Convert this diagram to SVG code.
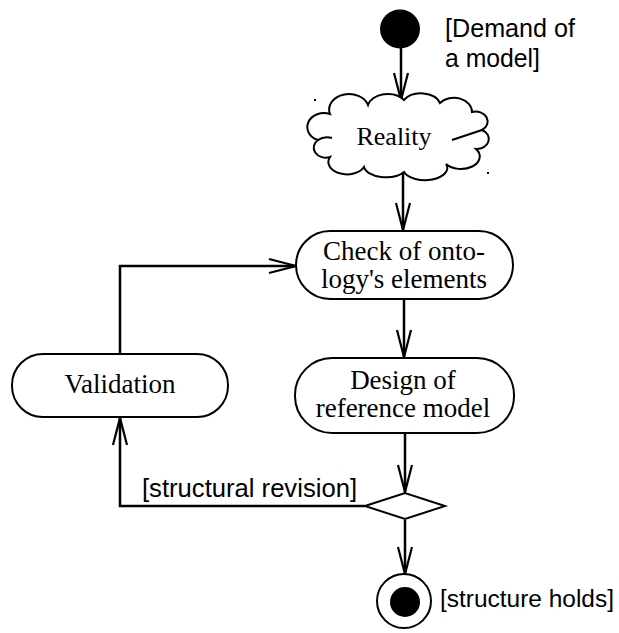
<svg xmlns="http://www.w3.org/2000/svg" width="619" height="633" viewBox="0 0 619 633">
<style>
.node{fill:#fff;stroke:#000;stroke-width:2}
.tt{font-family:"Liberation Serif","Times New Roman",serif;font-size:27px;fill:#000;text-anchor:middle}
.ts{font-family:"Liberation Sans",Arial,sans-serif;font-size:26px;fill:#000}
.edge{fill:none;stroke:#000;stroke-width:2.5}
</style>
<defs>
<marker id="arr" markerUnits="userSpaceOnUse" markerWidth="30" markerHeight="16" viewBox="0 0 30 16" refX="28" refY="8" orient="auto" overflow="visible">
<path d="M1,1 L28,8 L1,15" fill="none" stroke="#000" stroke-width="2.2"/>
</marker>
</defs>
<rect width="619" height="633" fill="#fff"/>
<g id="connectors">
<line class="edge" x1="401" y1="48" x2="401" y2="100" marker-end="url(#arr)"/>
<line class="edge" x1="403" y1="172" x2="403" y2="230" marker-end="url(#arr)"/>
<line class="edge" x1="404" y1="299" x2="404" y2="357" marker-end="url(#arr)"/>
<line class="edge" x1="405" y1="433" x2="405" y2="492" marker-end="url(#arr)"/>
<line class="edge" x1="405" y1="520" x2="405" y2="574" marker-end="url(#arr)"/>
<polyline class="edge" points="365,506 120,506 120,418" marker-end="url(#arr)"/>
<polyline class="edge" points="120,354 120,266 296,266" marker-end="url(#arr)"/>
</g>
<g id="start">
<ellipse cx="400" cy="29" rx="20" ry="19.5" fill="#000"/>
<text class="ts"><tspan x="445" y="37" textLength="130" lengthAdjust="spacingAndGlyphs">[Demand of</tspan><tspan x="445" y="67" textLength="95" lengthAdjust="spacingAndGlyphs">a model]</tspan></text>
</g>
<g id="reality">
<path class="node" d="M330,114 A18,14 0 0,1 368,105 A20,14 0 0,1 404,100 A20,14 0 0,1 440,103 A18,14 0 0,1 472,112 A12,10 0 0,1 482,130 A12,10 0 0,1 476,149 A18,12 0 0,1 446,164 A22,12 0 0,1 404,172 A22,12 0 0,1 364,167 A18,12 0 0,1 330,157 A12,10 0 0,1 318,140 A12,10 0 0,1 330,114 Z"/>
<path d="M318,140 Q324,136 332,138 M482,130 Q470,134 452,140" fill="none" stroke="#000" stroke-width="2"/>
<rect x="314" y="99" width="2" height="2" fill="#000"/>
<rect x="487" y="172" width="2" height="2" fill="#000"/>
<text class="tt" x="394" y="145" style="font-size:26px">Reality</text>
</g>
<g id="check">
<rect class="node" x="296" y="231" width="217" height="68" rx="34"/>
<text class="tt"><tspan x="404" y="260">Check of onto-</tspan><tspan x="404" y="288">logy's elements</tspan></text>
</g>
<g id="design">
<rect class="node" x="295" y="358" width="219" height="75" rx="37"/>
<text class="tt"><tspan x="403" y="389">Design of</tspan><tspan x="403" y="417">reference model</tspan></text>
</g>
<g id="validation">
<rect class="node" x="12" y="354" width="216" height="63" rx="31"/>
<text class="tt" x="120" y="393">Validation</text>
</g>
<g id="decision">
<polygon class="node" points="365,506 405,493 445,506 405,519"/>
<text class="ts" x="142" y="497" textLength="215" lengthAdjust="spacingAndGlyphs">[structural revision]</text>
</g>
<g id="end">
<circle cx="404" cy="601" r="27" class="node"/>
<circle cx="405" cy="602" r="15" fill="#000"/>
<text class="ts" x="440" y="607" style="font-size:23px" textLength="174" lengthAdjust="spacingAndGlyphs">[structure holds]</text>
</g>
</svg>
